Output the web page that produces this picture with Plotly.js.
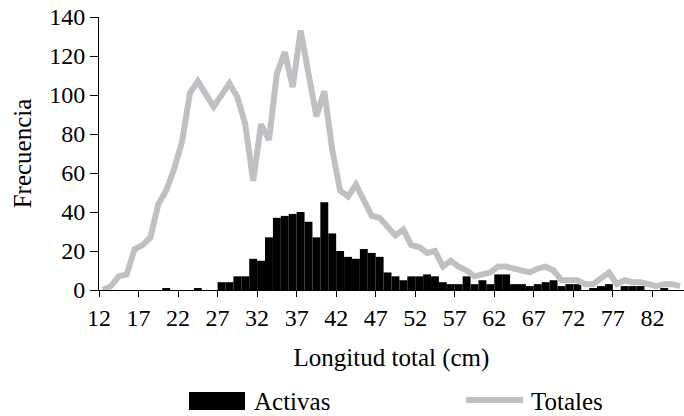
<!DOCTYPE html>
<html>
<head>
<meta charset="utf-8">
<script src="https://cdn.plot.ly/plotly-3.0.1.min.js"></script>
<style>html,body{margin:0;padding:0;background:#fff;}#chart{width:684px;height:416px;}</style>
</head>
<body>
<div id="chart"></div>
<script>
// Longitud total (cm), one class per cm
const longitud = [12,13,14,15,16,17,18,19,20,21,22,23,24,25,26,27,28,29,30,31,32,33,34,35,36,37,38,39,40,41,42,43,44,45,46,47,48,49,50,51,52,53,54,55,56,57,58,59,60,61,62,63,64,65,66,67,68,69,70,71,72,73,74,75,76,77,78,79,80,81,82,83,84,85];
// Activas (bars)
const activas = [0,0,0,0,0,0,0,0,1,0,0,0,1,0,0,4,4,7,7,16,15,27,37,38,39,40,35,27,45,29,20,17,16,21,19,17,9,7,5,7,7,8,7,4,3,3,7,3,5,3,8,8,3,3,2,3,4,5,2,3,3,0,1,2,3,0,2,2,2,0,0,1,0,0];
// Totales (line)
const totales = [0,2,7,8,21,23,27,44,51,62,76,101,107,101,94,100,106,99,85,56,85,77,111,122,104,133,111,89,102,72,51,48,54,46,38,37,32,28,31,23,22,19,20,12,15,12,10,7,8,9,12,12,11,10,9,11,12,10,5,5,5,3,3,6,9,3,5,4,4,3,2,3,3,2];
// Axis ticks
const xTickVals = [12,17,22,27,32,37,42,47,52,57,62,67,72,77,82];
const xTickText = ['12','17','22','27','32','37','42','47','52','57','62','67','72','77','82'];
const yTickVals = [0,20,40,60,80,100,120,140];
// Series names
const seriesNames = ['Activas', 'Totales'];

const FONT = 'Liberation Serif, Times New Roman, serif';
const BAR_COLOR = '#000000';
const LINE_COLOR = '#bfc0c3';

const traces = [
  {
    type: 'bar',
    name: seriesNames[0],
    x: longitud,
    y: activas,
    offset: 0,
    width: 1,
    showlegend: false,
    marker: {color: BAR_COLOR, line: {width: 0}}
  },
  {
    type: 'scatter',
    mode: 'lines',
    name: seriesNames[1],
    x: longitud.map(v => v + 0.5),
    y: totales,
    showlegend: false,
    line: {color: LINE_COLOR, width: 6}
  }
];

// Legend drawn below the plot (swatches + labels)
const legendShapes = [
  {type: 'rect', xref: 'paper', yref: 'paper', x0: 0.1538, x1: 0.2496, y0: -0.4396, y1: -0.3736,
   fillcolor: BAR_COLOR, line: {width: 0}},
  {type: 'line', xref: 'paper', yref: 'paper', x0: 0.6274, x1: 0.7248, y0: -0.4029, y1: -0.4029,
   line: {color: LINE_COLOR, width: 6}}
];
const legendLabels = [
  {xref: 'paper', yref: 'paper', x: 0.2615, y: -0.4066, xanchor: 'left', yanchor: 'middle',
   text: seriesNames[0], showarrow: false, font: {family: FONT, size: 25, color: '#000000'}},
  {xref: 'paper', yref: 'paper', x: 0.735, y: -0.4066, xanchor: 'left', yanchor: 'middle',
   text: seriesNames[1], showarrow: false, font: {family: FONT, size: 25, color: '#000000'}}
];

const layout = {
  width: 684,
  height: 416,
  margin: {l: 99, r: 0, t: 17, b: 126},
  paper_bgcolor: '#ffffff',
  plot_bgcolor: '#ffffff',
  font: {family: FONT, size: 24, color: '#000000'},
  showlegend: false,
  shapes: legendShapes,
  annotations: legendLabels,
  xaxis: {
    range: [12, 86],
    tickmode: 'array',
    tickvals: xTickVals,
    ticktext: xTickText,
    ticks: 'outside',
    ticklen: 6,
    tickwidth: 1,
    tickcolor: '#000000',
    showline: true,
    linecolor: '#000000',
    linewidth: 1,
    showgrid: false,
    zeroline: false,
    tickfont: {family: FONT, size: 24, color: '#000000'},
    title: {text: 'Longitud total (cm)', font: {family: FONT, size: 25, color: '#000000'}, standoff: 18}
  },
  yaxis: {
    range: [0, 140],
    tickmode: 'array',
    tickvals: yTickVals,
    ticks: 'outside',
    ticklen: 8,
    tickwidth: 1,
    tickcolor: '#000000',
    showline: true,
    linecolor: '#000000',
    linewidth: 1,
    showgrid: false,
    zeroline: false,
    tickfont: {family: FONT, size: 24, color: '#000000'},
    title: {text: 'Frecuencia', font: {family: FONT, size: 25, color: '#000000'}, standoff: 10}
  }
};

Plotly.newPlot('chart', traces, layout, {displayModeBar: false, staticPlot: true});
</script>
</body>
</html>
